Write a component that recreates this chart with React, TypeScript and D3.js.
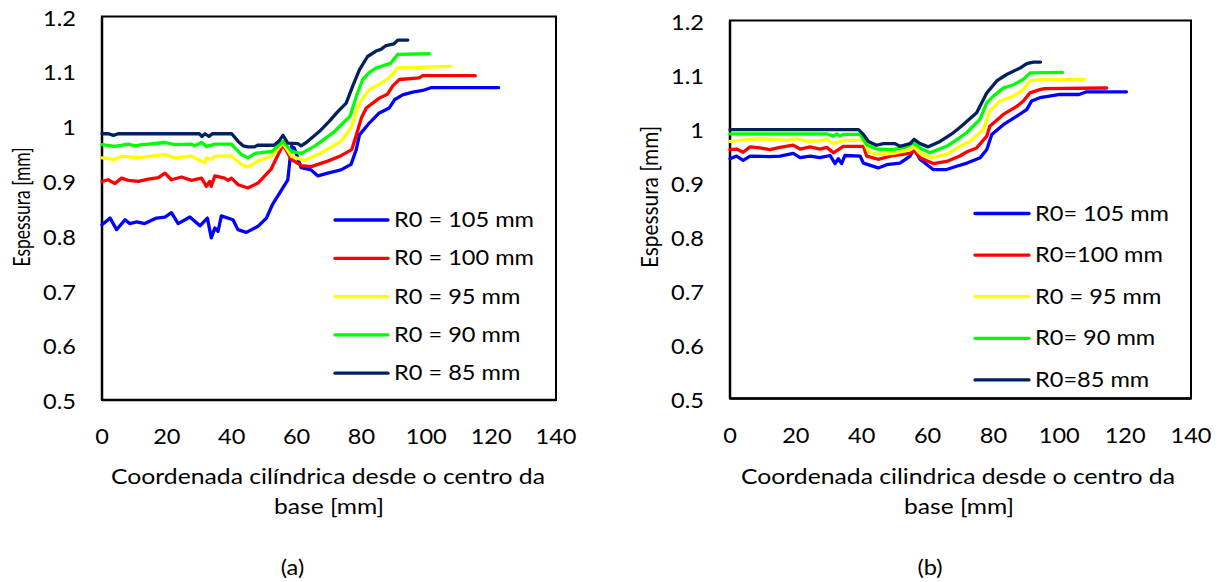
import React from "react";
import * as d3 from "d3";

type P = [number, number];

const xTicks = [0, 20, 40, 60, 80, 100, 120, 140];
const yTicks = [0.5, 0.6, 0.7, 0.8, 0.9, 1.0, 1.1, 1.2];
const yTickLabels = ["0.5", "0.6", "0.7", "0.8", "0.9", "1", "1.1", "1.2"];
const seriesColors = ["#0000ff", "#ff0000", "#ffff00", "#00ff00", "#002060"];
const legendA = ["R0 = 105 mm", "R0 = 100 mm", "R0 = 95 mm", "R0 = 90 mm", "R0 = 85 mm"];
const legendB = ["R0= 105 mm", "R0=100 mm", "R0 = 95 mm", "R0= 90 mm", "R0=85 mm"];
const yTitle = "Espessura [mm]";
const xTitle1 = "Coordenada cilíndrica desde o centro da";
const xTitle1b = "Coordenada cilindrica desde o centro da";
const xTitle2 = "base [mm]";

// ---- Chart (a) ----
const a105: P[] = [[0,0.820],[2.5,0.832],[4.5,0.811],[7.1,0.829],[8.6,0.822],[10.7,0.825],[13.2,0.822],[16.8,0.832],[19.4,0.834],[21.4,0.842],[23.5,0.822],[27.1,0.834],[30.2,0.818],[32.5,0.832],[33.7,0.796],[34.8,0.814],[35.8,0.808],[36.8,0.836],[40.4,0.829],[41.9,0.811],[44.5,0.806],[48.1,0.817],[50.7,0.832],[52.5,0.856],[55,0.88],[57.3,0.902],[58.4,0.963],[59.3,0.96],[61.4,0.924],[64.5,0.92],[66.6,0.909],[69.6,0.914],[73.7,0.92],[76.8,0.93],[78.4,0.957],[79.4,0.984],[82.5,1.006],[85.5,1.024],[88.6,1.033],[90.2,1.048],[92.7,1.057],[95.8,1.062],[98.9,1.065],[101.4,1.07],[122.3,1.07]];
const a100: P[] = [[0,0.899],[1.9,0.902],[4,0.895],[6,0.905],[8.1,0.901],[11.2,0.899],[14.3,0.903],[17.4,0.906],[19.4,0.914],[21.4,0.902],[24.5,0.907],[27.6,0.901],[30.7,0.905],[32.2,0.89],[33.2,0.899],[33.7,0.89],[34.8,0.909],[37.8,0.905],[38.9,0.901],[39.9,0.905],[42,0.893],[45,0.887],[48.1,0.896],[52.2,0.922],[55.8,0.966],[58.4,0.939],[61.5,0.928],[64.5,0.926],[69.6,0.936],[73.7,0.946],[77,0.957],[78.5,0.985],[80,1.015],[81.5,1.033],[85.5,1.051],[88,1.058],[89.6,1.073],[91.7,1.085],[97.8,1.088],[98.9,1.092],[115.1,1.092]];
const a95: P[] = [[0,0.942],[4,0.939],[6,0.945],[11.2,0.942],[15.3,0.945],[19.4,0.948],[22.5,0.942],[27.6,0.945],[29.6,0.939],[31.7,0.933],[32.2,0.942],[33.7,0.939],[34.8,0.945],[39.9,0.945],[43,0.93],[45,0.925],[48,0.936],[52.2,0.945],[55.8,0.969],[58.4,0.945],[62.5,0.937],[67.6,0.951],[73.7,0.972],[76.8,0.997],[79.4,1.042],[82.5,1.067],[85.5,1.076],[88.6,1.088],[91.2,1.106],[107.6,1.109]];
const a90: P[] = [[0,0.966],[4,0.963],[8.1,0.967],[10.2,0.964],[12.3,0.966],[14.3,0.967],[19.4,0.970],[22.5,0.966],[27.6,0.967],[28.6,0.964],[30.7,0.970],[32.2,0.963],[34.8,0.967],[39.9,0.967],[43,0.948],[45,0.942],[47.2,0.95],[52.5,0.954],[55.8,0.972],[58.4,0.954],[61.4,0.95],[65.5,0.963],[71.7,0.99],[76.5,1.018],[78.4,1.054],[80.4,1.085],[82.5,1.098],[84.5,1.106],[89.1,1.115],[91.2,1.131],[100.9,1.132]];
const a85: P[] = [[0,0.986],[2,0.986],[3.5,0.983],[5,0.986],[30,0.986],[30.8,0.981],[31.8,0.986],[33,0.981],[34,0.986],[40,0.986],[42,0.972],[43.5,0.964],[45,0.962],[47,0.962],[48,0.965],[53,0.965],[54.5,0.972],[55.8,0.983],[57.3,0.969],[60.4,0.968],[61.4,0.964],[63,0.970],[65,0.980],[67,0.990],[70,1.008],[72.5,1.025],[75.3,1.042],[77.3,1.073],[79.4,1.103],[81.9,1.127],[84.5,1.137],[86,1.140],[87.6,1.147],[90,1.150],[91.2,1.157],[94.3,1.157]];

// ---- Chart (b) ----
const b105: P[] = [[0,0.944],[2,0.949],[4,0.941],[6.1,0.949],[12.1,0.948],[15.2,0.949],[19.2,0.954],[21.3,0.946],[24.3,0.949],[27.3,0.946],[30.4,0.95],[31.9,0.935],[32.9,0.944],[33.9,0.935],[34.9,0.95],[39.5,0.949],[40.5,0.936],[45,0.927],[47.6,0.933],[51.6,0.936],[54.7,0.949],[55.9,0.962],[57.7,0.943],[61.7,0.924],[65.8,0.924],[68.8,0.93],[72,0.936],[76,0.946],[78,0.961],[79.5,0.989],[83,1.007],[87.1,1.023],[90.1,1.035],[91.6,1.051],[94.1,1.057],[97,1.06],[100.2,1.063],[106,1.063],[108.3,1.068],[120.4,1.068]];
const b100: P[] = [[0,0.961],[2,0.962],[4,0.956],[6.1,0.966],[9.1,0.964],[12.1,0.961],[15.2,0.965],[19.2,0.969],[21.3,0.962],[24.3,0.966],[27.3,0.962],[29.4,0.965],[31.4,0.955],[32.9,0.961],[34.4,0.967],[40.5,0.967],[41.5,0.949],[45,0.943],[49.6,0.950],[54.7,0.954],[55.9,0.96],[57.7,0.946],[61.7,0.935],[65.8,0.939],[69.8,0.949],[72,0.957],[74.9,0.964],[78,0.986],[78.9,1.004],[83,1.026],[87.1,1.041],[89.1,1.051],[91.1,1.066],[94.1,1.072],[95.5,1.074],[114.4,1.075]];
const b95: P[] = [[0,0.976],[3,0.978],[9.1,0.981],[17.2,0.978],[20.2,0.981],[23.3,0.976],[27.3,0.977],[29.4,0.980],[31.4,0.972],[33.4,0.976],[35.4,0.978],[40.5,0.978],[42,0.958],[44.5,0.952],[49.6,0.954],[54.7,0.961],[55.9,0.966],[57.7,0.954],[61.2,0.946],[65.8,0.952],[69.8,0.967],[72.9,0.976],[76.9,0.998],[78.9,1.032],[82,1.051],[86.1,1.06],[89.1,1.072],[91.1,1.088],[93.1,1.09],[107.6,1.091]];
const b90: P[] = [[0,0.990],[29.4,0.990],[31.4,0.986],[32.4,0.990],[33.4,0.986],[34.4,0.989],[39.5,0.989],[41.5,0.970],[44.5,0.962],[49.6,0.961],[53.6,0.966],[55.7,0.973],[57.7,0.964],[60.7,0.955],[65.8,0.967],[69.8,0.983],[72,0.993],[75.9,1.017],[78,1.048],[80,1.06],[83,1.075],[86.1,1.081],[89.1,1.091],[91.1,1.103],[101,1.104]];
const b85: P[] = [[0,0.998],[39,0.998],[40.5,0.989],[42,0.976],[44.5,0.969],[46.6,0.972],[50.1,0.972],[51.6,0.967],[54.7,0.972],[55.9,0.980],[57.7,0.972],[60.2,0.966],[63.8,0.976],[67.8,0.992],[69.8,1.002],[74.9,1.029],[78,1.066],[81,1.088],[84,1.10],[88.1,1.112],[90.1,1.12],[92.1,1.123],[94.3,1.123]];

const FONT = "Lato, 'Open Sans', sans-serif";
const SX = 1.15;
const FS = 20.5;

type PanelProps = {
  left: number; right: number; top: number; bottom: number;
  series: P[][]; legend: string[];
  legX1: number; legX2: number; legTextX: number; legY0: number; legStep: number;
  yTitleX: number; yTitleY: number; yTitleLen: number;
  xTitle: string; xTitleCx: number; caption: string; captionX: number;
};

function Panel(p: PanelProps) {
  const x = d3.scaleLinear().domain([0, 140]).range([p.left, p.right]);
  const y = d3.scaleLinear().domain([0.5, 1.2]).range([p.bottom, p.top]);
  const line = d3.line<P>().x(d => x(d[0])).y(d => y(d[1]));
  return (
    <g>
      <rect x={p.left} y={p.top} width={p.right - p.left} height={p.bottom - p.top}
        fill="#fff" stroke="#000" strokeWidth={2} />
      <line x1={p.left} x2={p.left} y1={p.top} y2={p.bottom} stroke="#000" strokeWidth={2.5} />
      <line x1={p.left} x2={p.right} y1={p.bottom} y2={p.bottom} stroke="#000" strokeWidth={2.5} />
      {p.series.map((s, i) => (
        <path key={i} d={line(s) || ""} fill="none" stroke={seriesColors[i]} strokeWidth={3.3}
          strokeLinejoin="round" strokeLinecap="round" />
      ))}
      {yTicks.map((t, i) => (
        <text key={"y" + i} transform={`translate(${p.left - 26},${y(t) + 2}) scale(${SX},1)`}
          textAnchor="end" dy="0.35em" fontFamily={FONT} fontSize={FS} fill="#000">{yTickLabels[i]}</text>
      ))}
      {xTicks.map((t, i) => (
        <text key={"x" + i} transform={`translate(${x(t)},${p.bottom + 37}) scale(${SX},1)`}
          textAnchor="middle" dy="0.35em" fontFamily={FONT} fontSize={FS} fill="#000">{t}</text>
      ))}
      {p.legend.map((lab, i) => {
        const ly = p.legY0 + i * p.legStep;
        return (
          <g key={"l" + i}>
            <line x1={p.legX1} x2={p.legX2} y1={ly} y2={ly} stroke={seriesColors[i]} strokeWidth={3.3} strokeLinecap="round" />
            <text transform={`translate(${p.legTextX},${ly}) scale(${SX},1)`} dy="0.35em"
              fontFamily={FONT} fontSize={FS} fill="#000">{lab}</text>
          </g>
        );
      })}
      <text transform={`translate(${p.yTitleX},${p.yTitleY}) rotate(-90) scale(1,1.12)`} textAnchor="middle" dy="0.35em"
        fontFamily={FONT} fontSize={FS} fill="#000" textLength={p.yTitleLen} lengthAdjust="spacingAndGlyphs">{yTitle}</text>
      <text x={p.xTitleCx} y={476.5} textAnchor="middle" dy="0.35em" fontFamily={FONT} fontSize={FS} fill="#000"
        textLength={434} lengthAdjust="spacingAndGlyphs">{p.xTitle}</text>
      <text x={p.xTitleCx + 1} y={506.5} textAnchor="middle" dy="0.35em" fontFamily={FONT} fontSize={FS} fill="#000"
        textLength={110} lengthAdjust="spacingAndGlyphs">{xTitle2}</text>
      <text transform={`translate(${p.captionX},568) scale(${SX},1)`} textAnchor="middle" dy="0.35em"
        fontFamily={FONT} fontSize={FS} fill="#000">{p.caption}</text>
    </g>
  );
}

export default function App() {
  return (
    <svg width={1224} height={582} style={{ position: "absolute", left: 0, top: 0, background: "#fff" }}>
      <rect x={0} y={0} width={1224} height={582} fill="#fff" />
      <Panel left={102} right={556} top={16.5} bottom={400}
        series={[a105, a100, a95, a90, a85]} legend={legendA}
        legX1={335} legX2={388} legTextX={394} legY0={220} legStep={38.3}
        yTitleX={22} yTitleY={207} yTitleLen={119}
        xTitle={xTitle1} xTitleCx={328} caption="(a)" captionX={292.5} />
      <Panel left={730} right={1191} top={20.5} bottom={398.5}
        series={[b105, b100, b95, b90, b85]} legend={legendB}
        legX1={975} legX2={1029} legTextX={1035} legY0={213.5} legStep={41.6}
        yTitleX={650} yTitleY={197} yTitleLen={142}
        xTitle={xTitle1b} xTitleCx={958} caption="(b)" captionX={930} />
    </svg>
  );
}
